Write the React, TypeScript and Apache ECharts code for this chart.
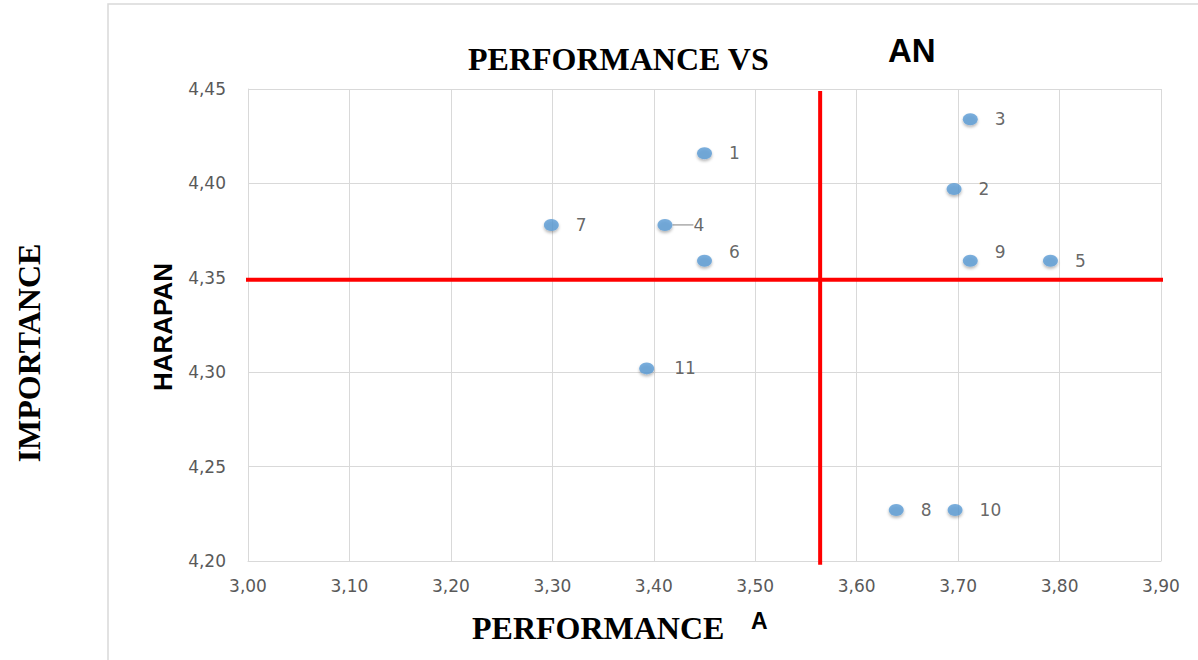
import React, { useEffect, useRef } from "react";
import * as echarts from "echarts";

// Data
const pointNames = ["1", "2", "3", "4", "5", "6", "7", "8", "9", "10", "11"];
const performanceX = [3.45, 3.696, 3.712, 3.411, 3.791, 3.45, 3.299, 3.639, 3.712, 3.697, 3.393];
const importanceY = [4.416, 4.397, 4.434, 4.378, 4.359, 4.359, 4.378, 4.227, 4.359, 4.227, 4.302];

// Red quadrant dividers (mean lines)
const vLineX = [3.564, 3.564];
const vLineY = [4.449, 4.198];
const hLineX = [2.993, 3.902];
const hLineY = [4.349, 4.349];

// Axis ranges
const xMin = 3.0, xMax = 3.9, xStep = 0.1;
const yMin = 4.2, yMax = 4.45, yStep = 0.05;

// label nudges (styling only)
const labelNudge: Record<string, [number, number]> = {
  "4": [4, 0],
  "6": [0, -9],
  "9": [0, -9],
  "11": [3, 0],
};

const fmt = (v: number) => v.toFixed(2).replace(".", ",");

export default function App() {
  const ref = useRef<HTMLDivElement>(null);
  useEffect(() => {
    if (!ref.current) return;
    const chart = echarts.init(ref.current, null, { renderer: "svg" });
    const scatterData = pointNames.map((n, i) => ({
      name: n,
      value: [performanceX[i], importanceY[i]],
      labelLine: n === "4" ? { show: true } : { show: false },
    }));
    chart.setOption({
      animation: false,
      backgroundColor: "#ffffff",
      grid: { left: 248, top: 89, right: 37, bottom: 99, containLabel: false },
      xAxis: {
        type: "value",
        min: xMin,
        max: xMax,
        interval: xStep,
        axisLine: { show: true, lineStyle: { color: "#d9d9d9", width: 1 } },
        axisTick: { show: false },
        splitLine: { show: true, lineStyle: { color: "#d9d9d9", width: 1 } },
        axisLabel: {
          formatter: fmt,
          color: "#595959",
          fontSize: 17,
          fontFamily: "DejaVu Sans",
          margin: 16,
        },
      },
      yAxis: {
        type: "value",
        min: yMin,
        max: yMax,
        interval: yStep,
        axisLine: { show: true, lineStyle: { color: "#d9d9d9", width: 1 } },
        axisTick: { show: false },
        splitLine: { show: true, lineStyle: { color: "#d9d9d9", width: 1 } },
        axisLabel: {
          formatter: fmt,
          color: "#595959",
          fontSize: 17,
          fontFamily: "DejaVu Sans",
          margin: 22,
        },
      },
      series: [
        {
          type: "line",
          data: vLineX.map((x, i) => [x, vLineY[i]]),
          showSymbol: false,
          symbol: "none",
          clip: false,
          lineStyle: { color: "#ff0000", width: 4 },
          z: 3,
        },
        {
          type: "line",
          data: hLineX.map((x, i) => [hLineX[i], hLineY[i]]),
          showSymbol: false,
          symbol: "none",
          clip: false,
          lineStyle: { color: "#ff0000", width: 4 },
          z: 3,
        },
        {
          type: "scatter",
          data: scatterData,
          symbol: "circle",
          symbolSize: [15, 12],
          z: 5,
          itemStyle: {
            color: "#5b9bd5",
            shadowBlur: 3,
            shadowColor: "rgba(0,0,0,0.35)",
            shadowOffsetY: 2,
          },
          label: {
            show: true,
            position: "right",
            distance: 17,
            formatter: (p: any) => p.name,
            color: "#404040",
            fontSize: 17,
            fontFamily: "DejaVu Sans",
          },
          labelLine: { show: false, lineStyle: { color: "#808080", width: 1 } },
          labelLayout: (p: any) => {
            const n = pointNames[p.dataIndex];
            const d = labelNudge[n];
            return d ? { dx: d[0], dy: d[1] } : {};
          },
        },
      ],
      graphic: [
        {
          type: "rect",
          shape: { x: 108, y: 4, width: 1200, height: 700 },
          style: { fill: "none", stroke: "#d9d9d9", lineWidth: 1.5 },
          silent: true,
          z: -1,
        },
        {
          type: "text",
          x: 468,
          y: 59,
          style: {
            text: "PERFORMANCE VS",
            font: "bold 32px 'Liberation Serif', 'Times New Roman', serif",
            fill: "#000",
            textAlign: "left",
            textVerticalAlign: "middle",
          },
        },
        {
          type: "text",
          x: 888,
          y: 50,
          style: {
            text: "AN",
            font: "bold 33px 'Liberation Sans', Arial, sans-serif",
            fill: "#000",
            textAlign: "left",
            textVerticalAlign: "middle",
          },
        },
        {
          type: "text",
          x: 472,
          y: 628,
          style: {
            text: "PERFORMANCE",
            font: "bold 32px 'Liberation Serif', 'Times New Roman', serif",
            fill: "#000",
            textAlign: "left",
            textVerticalAlign: "middle",
          },
        },
        {
          type: "text",
          x: 751,
          y: 621,
          style: {
            text: "A",
            font: "bold 23px 'Liberation Sans', Arial, sans-serif",
            fill: "#000",
            textAlign: "left",
            textVerticalAlign: "middle",
          },
        },
        {
          type: "text",
          x: 29,
          y: 353,
          rotation: Math.PI / 2,
          style: {
            text: "IMPORTANCE",
            font: "bold 32px 'Liberation Serif', 'Times New Roman', serif",
            fill: "#000",
            textAlign: "center",
            textVerticalAlign: "middle",
          },
        },
        {
          type: "text",
          x: 163,
          y: 327,
          rotation: Math.PI / 2,
          style: {
            text: "HARAPAN",
            font: "bold 26px 'Liberation Sans', Arial, sans-serif",
            fill: "#000",
            textAlign: "center",
            textVerticalAlign: "middle",
          },
        },
      ],
    });
    return () => chart.dispose();
  }, []);
  return (
    <div
      ref={ref}
      style={{ position: "fixed", left: 0, top: 0, width: 1198, height: 660, background: "#fff" }}
    />
  );
}
